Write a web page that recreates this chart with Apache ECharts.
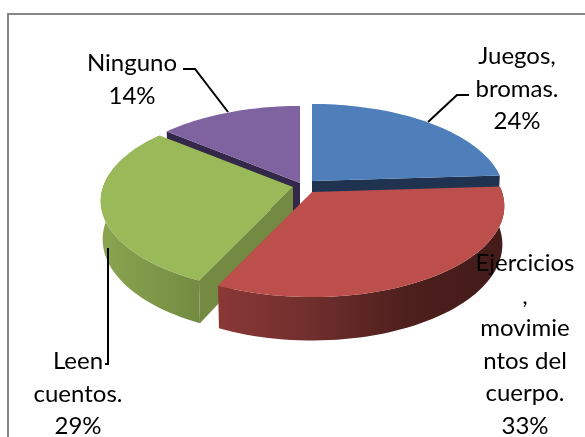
<!DOCTYPE html>
<html>
<head>
<meta charset="utf-8">
<script src="https://cdn.jsdelivr.net/npm/echarts@6/dist/echarts.min.js"></script>
<style>
	html, body { margin: 0; padding: 0; background: #fff; }
	#chart { width: 585px; height: 437px; }
</style>
</head>
<body>
<div id="chart"></div>
<script>
	// datos del grafico
	var categories = ['Juegos, bromas.', 'Ejercicios, movimientos del cuerpo.', 'Leen cuentos.', 'Ninguno'];
	var values = [24, 33, 29, 14];
	var labelLines = [
		['Juegos,', 'bromas.'],
		['Ejercicios', ',', 'movimie', 'ntos del', 'cuerpo.'],
		['Leen', 'cuentos.'],
		['Ninguno']
	];

	// colores: cara superior, cara interior, pared exterior
	var topColors = ['#4e7fbb', '#bc4f4b', '#9ab958', '#7f62a0'];
	var faceColors = ['#1f3350', '#4a1d1b', '#748a42', '#33274a'];
	var wallStops = [
		null,
		['#8a3836', '#6e2e2c', '#4d1f1d', '#431b19'],
		['#8ba44f', '#7f9849', '#728b41'],
		null
	];

	// geometria de la perspectiva
	var origins = [[312, 181], [312, 192], [293, 187], [300, 183]];
	var sliceZ = [20, 40, 30, 10];
	var RX = 190, KY = 88.9, PERSP = 0.154, DEPTH = 38, BOTTOM_SCALE = 0.99;
	var labelPos = [[517, 56], [525, 263], [78, 361], [132, 63]];
	var leaders = [
		[[469, 95], [457, 95], [428, 122]],
		null,
		[[108, 248], [108, 364], [105, 364]],
		[[183, 69], [195, 69], [228, 112]]
	];

	function project(origin, deg, bottom) {
		var t = deg * Math.PI / 180;
		var X = Math.sin(t), Y = Math.cos(t);
		var s = 1 / (1 + PERSP * Y);
		var f = bottom ? BOTTOM_SCALE : 1;
		return [
			origin[0] + RX * X * s * f,
			origin[1] - KY * Y * s * f + (bottom ? DEPTH * s * f : 0)
		];
	}

	function arc(origin, from, to, bottom) {
		var pts = [];
		var n = Math.max(2, Math.ceil(Math.abs(to - from) / 2));
		for (var i = 0; i <= n; i++) {
			pts.push(project(origin, from + (to - from) * i / n, bottom));
		}
		return pts;
	}

	function renderSlice(params, api) {
		var i = params.dataIndex;
		var total = values.reduce(function (a, b) { return a + b; }, 0);
		var start = 0;
		for (var k = 0; k < i; k++) start += values[k] / total * 360;
		var end = start + api.value(0) / total * 360;
		var o = origins[i];
		var z = sliceZ[i];
		var bottomApex = [o[0], o[1] + DEPTH];
		var children = [];

		// cara interior visible
		var faceAngle = i === 0 ? end : (i === 1 ? null : start);
		if (faceAngle !== null) {
			children.push({
				type: 'polygon', z2: z,
				shape: { points: [o, project(o, faceAngle, false), project(o, faceAngle, true), bottomApex] },
				style: { fill: faceColors[i] }
			});
		}

		// pared exterior
		if (wallStops[i]) {
			var wall = arc(o, start, end, false).concat(arc(o, end, start, true));
			var stops = wallStops[i];
			children.push({
				type: 'polygon', z2: z + 1,
				shape: { points: wall },
				style: {
					fill: {
						type: 'linear', x: 0, y: 0, x2: 1, y2: 0,
						colorStops: stops.map(function (c, j) { return { offset: j / (stops.length - 1), color: c }; })
					}
				}
			});
		}

		// cara superior
		children.push({
			type: 'polygon', z2: z + 2,
			shape: { points: [o].concat(arc(o, start, end, false)) },
			style: { fill: topColors[i] }
		});

		// linea guia
		if (leaders[i]) {
			children.push({
				type: 'polyline', z2: 100,
				shape: { points: leaders[i] },
				style: { stroke: '#000', lineWidth: 2, fill: null }
			});
		}

		// etiqueta
		children.push({
			type: 'text', z2: 101,
			x: labelPos[i][0], y: labelPos[i][1],
			style: {
				text: labelLines[i].concat([api.value(0) + '%']).join('\n'),
				fontFamily: 'Lato', fontSize: 24, lineHeight: 32.6,
				fill: '#000', align: 'center', verticalAlign: 'top',
				y: -16
			}
		});

		return { type: 'group', children: children };
	}

	var myChart = echarts.init(document.getElementById('chart'));
	myChart.setOption({
		animation: false,
		backgroundColor: '#fff',
		tooltip: { show: false },
		graphic: [{
			type: 'polyline', silent: true,
			shape: { points: [[8, 437], [8, 14], [585, 14]] },
			style: { stroke: '#868686', lineWidth: 2, fill: null }
		}],
		series: [{
			type: 'custom',
			coordinateSystem: 'none',
			silent: true,
			renderItem: renderSlice,
			data: values.map(function (v, i) { return { name: categories[i], value: [v] }; })
		}]
	});
</script>
</body>
</html>
